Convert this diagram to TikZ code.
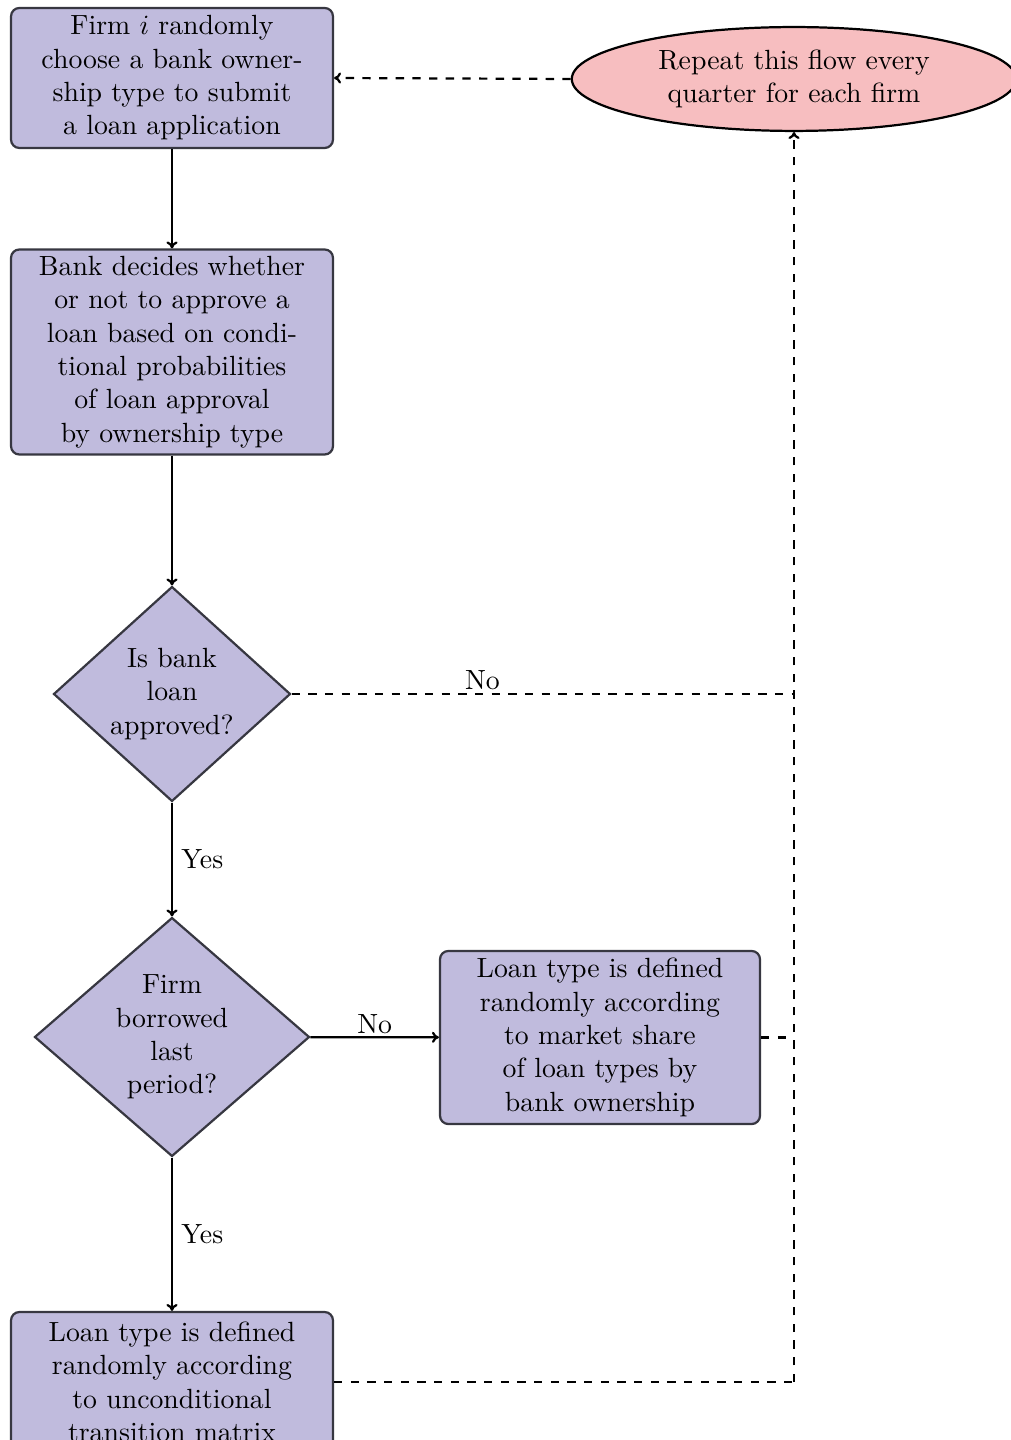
\documentclass[tikz,border=0pt]{standalone}
\usetikzlibrary{shapes.geometric,arrows.meta}
\definecolor{boxfill}{RGB}{192,187,221}
\definecolor{ellfill}{RGB}{247,190,192}
\definecolor{edge}{RGB}{55,55,65}
\begin{document}
\begin{tikzpicture}[x=0.36pt,y=-0.36pt,
  procbox/.style={rectangle,rounded corners=3pt,draw=edge,line width=0.8pt,fill=boxfill,align=center,inner sep=0pt,minimum width=#1},
  procbox/.default=115.9pt,
  decide/.style={diamond,draw=edge,line width=0.8pt,fill=boxfill,align=center,inner sep=0pt},
  cloud/.style={ellipse,draw=black,line width=0.8pt,fill=ellfill,align=center,inner sep=0pt,minimum width=160pt,minimum height=37.4pt},
  conn/.style={line width=0.8pt,-{To[length=2.5pt,width=4pt]}},
  dconn/.style={line width=0.8pt,dashed},
  lbl/.style={inner sep=1pt}]
\useasboundingbox (0,0) rectangle (1010,1440);

\node[procbox,minimum height=50.4pt] (b1) at (172,78)
  {Firm $i$ randomly\\choose a bank owner-\\ship type to submit\\a loan application};
\node[procbox,minimum height=73.8pt] (b2) at (172,352)
  {Bank decides whether\\or not to approve a\\loan based on condi-\\tional probabilities\\of loan approval\\by ownership type};
\node[decide,minimum width=85.3pt,minimum height=73.8pt] (d1) at (172,694)
  {Is bank\\loan\\approved?};
\node[decide,minimum width=99pt,minimum height=86pt] (d2) at (172,1037)
  {Firm\\borrowed\\last\\period?};
\node[procbox=115.2pt,minimum height=62.3pt] (b3) at (600,1037.5)
  {Loan type is defined\\randomly according\\to market share\\of loan types by\\bank ownership};
\node[procbox,minimum height=50.4pt] (b4) at (172,1382)
  {Loan type is defined\\randomly according\\to unconditional\\transition matrix};
\node[cloud] (e) at (794,79) {Repeat this flow every\\quarter for each firm};

\draw[conn] (b1) -- (b2);
\draw[conn] (b2) -- (d1);
\draw[conn] (d1) -- node[lbl,right,pos=0.5,xshift=2pt] {Yes} (d2);
\draw[conn] (d2) -- node[lbl,above] {No} (b3);
\draw[conn] (d2) -- node[lbl,right,pos=0.5,xshift=2pt] {Yes} (b4);

\coordinate (j1) at (d1.east -| e.south);
\coordinate (j2) at (b3.east -| e.south);
\coordinate (j3) at (b4.east -| e.south);
\draw[dconn] (d1.east) -- node[lbl,above,pos=0.38] {No} (j1);
\draw[dconn] (b3.east) -- (j2);
\draw[dconn] (b4.east) -- (j3);
\draw[dconn,-{To[length=2.5pt,width=4pt]}] (j3) -- (e.south);
\draw[dconn,-{To[length=2.5pt,width=4pt]}] (e.west) -- (b1.east);
\end{tikzpicture}
\end{document}
